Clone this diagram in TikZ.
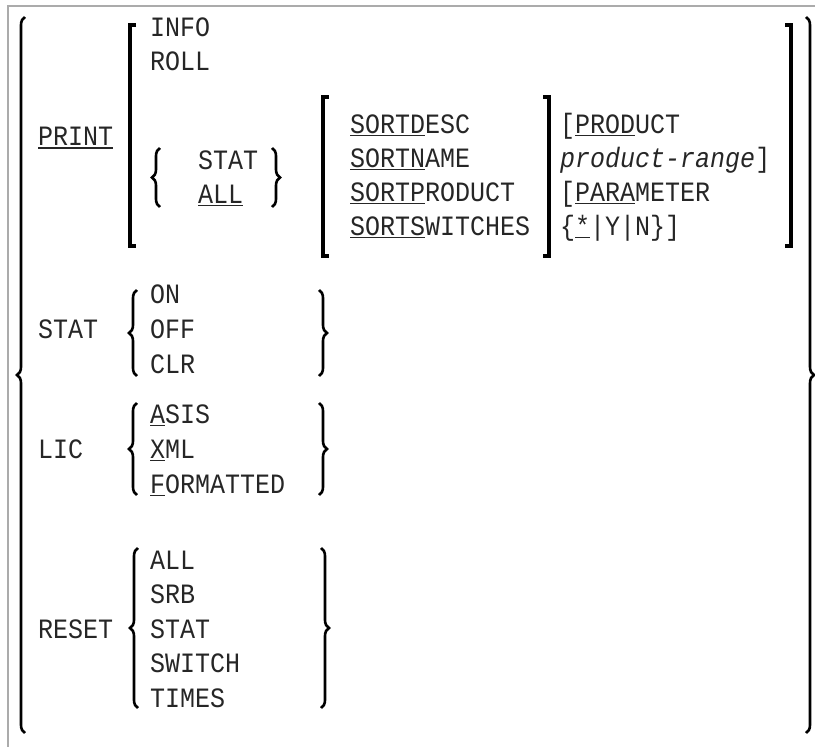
\documentclass[tikz,border=0pt]{standalone}
\usepackage{fontspec}
\usetikzlibrary{decorations.pathreplacing}
\newfontfamily\synfont[FakeStretch=0.893]{Liberation Mono}
\newcommand\uln[1]{\setbox0\hbox{#1}\rlap{\rule[-3pt]{\wd0}{1.4pt}}\box0}

\begin{document}
\begin{tikzpicture}[x=1pt, y=-1pt,
    kw/.style={anchor=base west, inner sep=0pt, text=black!85, font=\synfont\fontsize{28}{32}\selectfont},
    brk/.style={line width=3.5pt},
    brc/.style={line width=2.6pt, decorate, decoration={brace, amplitude=8pt}}]
         \useasboundingbox (0,0) rectangle (815,747);
         \draw[black!33, line width=1.5pt] (8,747) -- (8,6) -- (815,6);

         \draw[brc] (25,733) -- (25,17);
         \draw[brc] (806,17) -- (806,733);

         \draw[brk] (136,25) -- (130,25) -- (130,246) -- (136,246);
         \draw[brk] (785,25) -- (791,25) -- (791,246) -- (785,246);
         \draw[brk] (329,97) -- (323,97) -- (323,256) -- (329,256);
         \draw[brk] (543,97) -- (549,97) -- (549,256) -- (543,256);

         \draw[brc] (160,207) -- (160,148);
         \draw[brc] (272,148) -- (272,207);
         \draw[brc] (137,376) -- (137,290);
         \draw[brc] (319,290) -- (319,376);
         \draw[brc] (137,495) -- (137,403);
         \draw[brc] (319,403) -- (319,495);
         \draw[brc] (138,708) -- (138,548);
         \draw[brc] (321,548) -- (321,708);

         \node[kw] (print) at (38,145.5) {\uln{PRINT}};
         \node[kw] (info) at (150,36) {INFO};
         \node[kw] (roll) at (150,70) {ROLL};
         \node[kw] (pstat) at (198,169) {STAT};
         \node[kw] (pall) at (198,203) {\uln{ALL}};
         \node[kw] (sdesc) at (350,133) {\uln{SORTD}ESC};
         \node[kw] (sname) at (350,167) {\uln{SORTN}AME};
         \node[kw] (sprod) at (350,201) {\uln{SORTP}RODUCT};
         \node[kw] (sswitch) at (350,235) {\uln{SORTS}WITCHES};
         \node[kw] (prod) at (560,133) {[\uln{PROD}UCT};
         \node[kw] (range) at (560,167) {{\itshape product-range}]};
         \node[kw] (param) at (560,201) {[\uln{PARA}METER};
         \node[kw] (yn) at (560,235) {\{\uln{*}|Y|N\}]};

         \node[kw] (stat) at (38,338) {STAT};
         \node[kw] (on) at (150,303) {ON};
         \node[kw] (off) at (150,338) {OFF};
         \node[kw] (clr) at (150,373) {CLR};

         \node[kw] (lic) at (38,458) {LIC};
         \node[kw] (asis) at (150,423) {\uln{A}SIS};
         \node[kw] (xml) at (150,458) {\uln{X}ML};
         \node[kw] (fmt) at (150,493) {\uln{F}ORMATTED};

         \node[kw] (reset) at (38,638) {RESET};
         \node[kw] (rall) at (150,569) {ALL};
         \node[kw] (srb) at (150,603) {SRB};
         \node[kw] (rstat) at (150,638) {STAT};
         \node[kw] (switch) at (150,672) {SWITCH};
         \node[kw] (times) at (150,707) {TIMES};
      \end{tikzpicture}
\end{document}
